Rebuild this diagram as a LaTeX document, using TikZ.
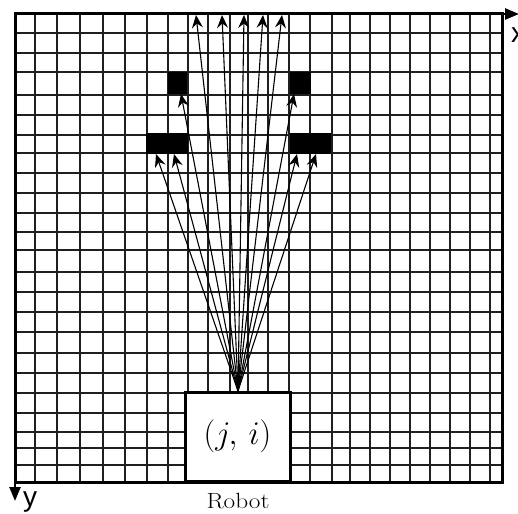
\RequirePackage{fix-cm}
\documentclass[tikz,border=0pt]{standalone}
\usepackage{fontspec}
\newfontfamily\axisfont{Liberation Sans}
\usetikzlibrary{arrows.meta}
\begin{document}
\begin{tikzpicture}[x=1pt,y=-1pt,
  gridline/.style={line width=1.7pt, black!88},
  frame/.style={line width=3pt, black},
  obst/.style={fill=black, draw=none},
  ray/.style={line width=1.1pt, -{Stealth[length=13pt,width=11pt,inset=4.5pt]}},
  axisline/.style={line width=2.5pt, -{Triangle[length=14pt,width=11pt]}},
  axislabel/.style={font=\axisfont\fontsize{28}{32}\selectfont, inner sep=0pt, anchor=base},
  robotbox/.style={draw, line width=3pt, fill=white, inner sep=0pt, minimum width=105pt, minimum height=89pt}]
\useasboundingbox (0,0) rectangle (518,513);
% grid
\foreach \x in {35,57,80,103,125,147,168,188,208,230,248,268,289,310,332,350,370,390,410,430,450,470,490}
  \draw[gridline] (\x,14) -- (\x,482);
\foreach \y in {33,53,72,95,115,135,153,173,193,213,232,250,272,292,312,332,353,373,393,413,432,448,465}
  \draw[gridline] (15,\y) -- (502,\y);
% obstacles
\fill[obst] (168,72) rectangle (187,94);
\fill[obst] (290,72) rectangle (311,94);
\fill[obst] (146,133) rectangle (188,154);
\fill[obst] (290,133) rectangle (331,154);
% frame and axes
\draw[frame] (15,14) rectangle (502,482);
\coordinate (O) at (15,14);
\coordinate (xend) at (519,14);
\coordinate (yend) at (15,501);
\draw[axisline] (O) -- (xend);
\draw[axisline] (O) -- (yend);
\node[axislabel] (xl) at (518,43) {x};
\node[axislabel] (yl) at (30,506) {y};
% robot
\node[robotbox] (rob) at (237.5,436.5) {\fontsize{33}{38}\selectfont $(j,\,i)$};
\node[font=\fontsize{22}{26}\selectfont, inner sep=0pt, anchor=base] (lab) at (238,508) {\scalebox{1.15}[1]{Robot}};
% rays
\coordinate (src) at (238,391);
\coordinate (t1) at (196,15);
\coordinate (t2) at (222,15);
\coordinate (t3) at (244,15);
\coordinate (t4) at (263,15);
\coordinate (t5) at (282,15);
\coordinate (u1) at (181,94);
\coordinate (u2) at (294,94);
\coordinate (l1) at (156,154);
\coordinate (l2) at (174,154);
\coordinate (l3) at (297,154);
\coordinate (l4) at (316,154);
\foreach \t in {t1,t2,t3,t4,t5,u1,u2,l1,l2,l3,l4}
  \draw[ray] (src) -- (\t);
\end{tikzpicture}
\end{document}
